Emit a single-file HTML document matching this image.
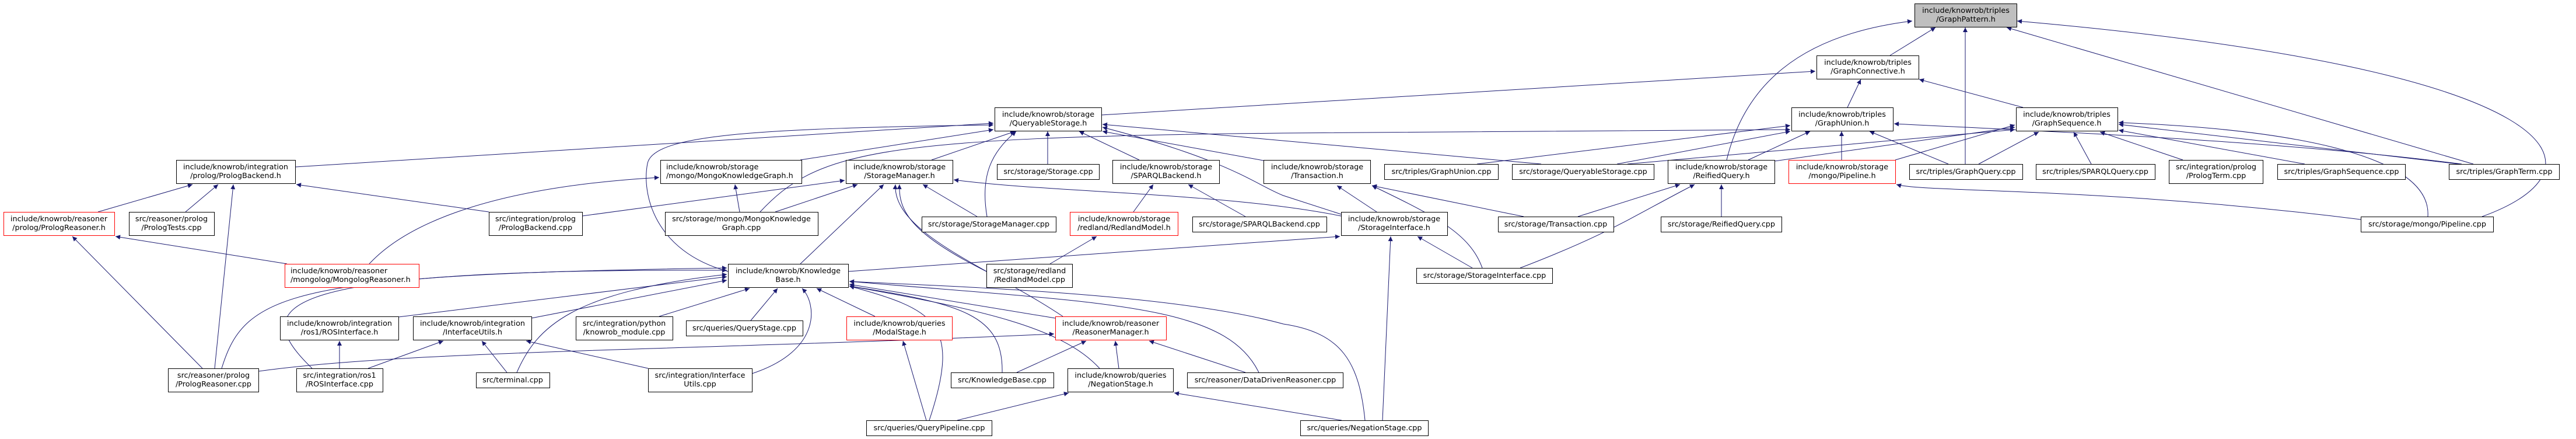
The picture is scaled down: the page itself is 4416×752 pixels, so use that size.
<!DOCTYPE html>
<html><head><meta charset="utf-8"><style>
html,body{margin:0;padding:0;background:#fff;}
svg{display:block;}
text{font-family:"DejaVu Sans","Liberation Sans",sans-serif;font-size:12.8px;fill:#000;}
.n{fill:#fff;stroke:#000;stroke-width:1;}
.r{fill:#fff;stroke:#ff0000;stroke-width:1;}
.g{fill:#bfbfbf;stroke:#000;stroke-width:1;}
.e{fill:none;stroke:#191970;stroke-width:1;marker-end:url(#a);}
</style></head><body>
<svg width="4416" height="752" viewBox="0 0 4416 752" xmlns="http://www.w3.org/2000/svg">
<defs><marker id="a" viewBox="0 0 10 10" refX="10" refY="5" markerWidth="10" markerHeight="8" markerUnits="userSpaceOnUse" orient="auto"><path d="M0,0 L10,5 L0,10 z" fill="#191970"/></marker></defs>
<g>
<path class="e" d="M3240,95 L3318,47"/>
<path class="e" d="M2960,274 C2990,150 3080,60 3278,36"/>
<path class="e" d="M3369,281 L3369,47"/>
<path class="e" d="M4240,281 L3440,47"/>
<path class="e" d="M4255,371 C4480,290 4420,120 3458,36"/>
<path class="e" d="M1888,197 L3112,122"/>
<path class="e" d="M3167,184 L3190,136"/>
<path class="e" d="M3468,184 L3290,136"/>
<path class="e" d="M2532,281 L3069,215"/>
<path class="e" d="M2772,281 L3069,225"/>
<path class="e" d="M2997,274 L3103,225"/>
<path class="e" d="M3157,274 L3157,225"/>
<path class="e" d="M3340,281 L3205,225"/>
<path class="e" d="M4220,281 C3900,240 3500,225 3247,212"/>
<path class="e" d="M2790,281 L3454,222"/>
<path class="e" d="M3042,276 L3454,218"/>
<path class="e" d="M3249,274 L3454,214"/>
<path class="e" d="M1303,363 C1400,260 1500,235 2200,228 L3069,222"/>
<path class="e" d="M506,286 L1703,211"/>
<path class="e" d="M1248,465 C1120,430 1100,330 1110,280 C1120,230 1300,220 1703,214"/>
<path class="e" d="M1372,274 L1703,222"/>
<path class="e" d="M1597,274 L1740,225"/>
<path class="e" d="M1692,371 C1680,300 1700,260 1742,225"/>
<path class="e" d="M1796,281 L1796,225"/>
<path class="e" d="M1953,274 L1850,225"/>
<path class="e" d="M2166,275 L1890,225"/>
<path class="e" d="M2642,281 L1890,213"/>
<path class="e" d="M2299,367 L2200,335 C2150,315 2110,275 1890,218"/>
<path class="e" d="M168,363 L330,316"/>
<path class="e" d="M318,363 L374,316"/>
<path class="e" d="M368,631 L400,316"/>
<path class="e" d="M838,363 L508,316"/>
<path class="e" d="M998,370 L1448,309"/>
<path class="e" d="M347,631 L124,405"/>
<path class="e" d="M492,452 L198,405"/>
<path class="e" d="M633,452 C700,380 850,320 1130,304"/>
<path class="e" d="M1268,363 L1260,316"/>
<path class="e" d="M1329,363 L1470,316"/>
<path class="e" d="M1372,452 L1515,316"/>
<path class="e" d="M1675,371 L1582,316"/>
<path class="e" d="M1822,542 C1700,460 1530,400 1535,316"/>
<path class="e" d="M1691,465 C1560,400 1540,360 1542,316"/>
<path class="e" d="M2299,370 C2100,330 1800,330 1635,308"/>
<path class="e" d="M1943,363 L1977,316"/>
<path class="e" d="M2135,371 L2037,316"/>
<path class="e" d="M1800,452 L1880,405"/>
<path class="e" d="M1454,465 L2297,405"/>
<path class="e" d="M2524,459 L2430,405"/>
<path class="e" d="M2370,720 L2384,405"/>
<path class="e" d="M2360,363 L2292,318"/>
<path class="e" d="M2612,371 L2352,318"/>
<path class="e" d="M2541,459 C2520,400 2460,370 2352,318"/>
<path class="e" d="M2705,371 L2880,316"/>
<path class="e" d="M2606,459 C2760,400 2800,370 2905,316"/>
<path class="e" d="M2951,371 L2951,316"/>
<path class="e" d="M4047,376 C3600,320 3300,330 3251,316"/>
<path class="e" d="M3392,281 L3495,226"/>
<path class="e" d="M3585,281 L3555,226"/>
<path class="e" d="M3742,274 L3600,226"/>
<path class="e" d="M3951,281 L3632,223"/>
<path class="e" d="M4215,281 L3632,213"/>
<path class="e" d="M4162,371 C4170,260 3900,220 3632,210"/>
<path class="e" d="M380,631 C420,500 500,470 1246,459"/>
<path class="e" d="M535,631 C420,520 470,460 1246,463"/>
<path class="e" d="M683,543 L1246,474"/>
<path class="e" d="M911,545 L1246,480"/>
<path class="e" d="M1130,542 L1285,494"/>
<path class="e" d="M1287,549 L1333,494"/>
<path class="e" d="M1289,640 C1410,600 1400,520 1375,494"/>
<path class="e" d="M1500,542 L1400,494"/>
<path class="e" d="M1718,638 C1720,540 1650,520 1456,490"/>
<path class="e" d="M1809,545 L1456,487"/>
<path class="e" d="M1885,631 C1820,560 1680,530 1456,490"/>
<path class="e" d="M1593,720 C1650,550 1600,530 1456,490"/>
<path class="e" d="M2158,638 C2100,520 1900,520 1456,482"/>
<path class="e" d="M2340,720 C2330,620 2300,570 2200,555 C2000,500 1600,490 1456,482"/>
<path class="e" d="M886,638 C920,560 980,500 1246,470"/>
<path class="e" d="M631,631 L760,584"/>
<path class="e" d="M869,638 L826,584"/>
<path class="e" d="M1111,631 L902,584"/>
<path class="e" d="M582,631 L582,584"/>
<path class="e" d="M443,636 C700,600 1200,600 1807,572"/>
<path class="e" d="M1743,638 L1862,584"/>
<path class="e" d="M1918,631 L1912,584"/>
<path class="e" d="M2135,638 L1970,584"/>
<path class="e" d="M1588,720 L1548,584"/>
<path class="e" d="M1641,720 L1832,673"/>
<path class="e" d="M2300,720 L2013,673"/>
</g>
<g>
<rect class="g" x="3282.5" y="6.5" width="175" height="40"/><text x="3370" y="22" text-anchor="middle">include/knowrob/triples</text><text x="3370" y="37" text-anchor="middle">/GraphPattern.h</text>
<rect class="n" x="3114.5" y="95.5" width="175" height="40"/><text x="3202" y="111" text-anchor="middle">include/knowrob/triples</text><text x="3202" y="126" text-anchor="middle">/GraphConnective.h</text>
<rect class="n" x="1705.5" y="184.5" width="183" height="40"/><text x="1797" y="200" text-anchor="middle">include/knowrob/storage</text><text x="1797" y="215" text-anchor="middle">/QueryableStorage.h</text>
<rect class="n" x="3071.5" y="184.5" width="174" height="40"/><text x="3158" y="200" text-anchor="middle">include/knowrob/triples</text><text x="3158" y="215" text-anchor="middle">/GraphUnion.h</text>
<rect class="n" x="3456.5" y="184.5" width="174" height="40"/><text x="3543" y="200" text-anchor="middle">include/knowrob/triples</text><text x="3543" y="215" text-anchor="middle">/GraphSequence.h</text>

<rect class="n" x="302.5" y="274.5" width="204" height="40"/><text x="404" y="290" text-anchor="middle">include/knowrob/integration</text><text x="404" y="305" text-anchor="middle">/prolog/PrologBackend.h</text>
<rect class="n" x="1132.5" y="274.5" width="242" height="40"/><text x="1142" y="290">include/knowrob/storage</text><text x="1142" y="305">/mongo/MongoKnowledgeGraph.h</text>
<rect class="n" x="1450.5" y="274.5" width="183" height="40"/><text x="1542" y="290" text-anchor="middle">include/knowrob/storage</text><text x="1542" y="305" text-anchor="middle">/StorageManager.h</text>
<rect class="n" x="1709.5" y="281.5" width="175" height="26"/><text x="1797" y="298" text-anchor="middle">src/storage/Storage.cpp</text>
<rect class="n" x="1907.5" y="274.5" width="183" height="40"/><text x="1999" y="290" text-anchor="middle">include/knowrob/storage</text><text x="1999" y="305" text-anchor="middle">/SPARQLBackend.h</text>
<rect class="n" x="2166.5" y="274.5" width="183" height="40"/><text x="2258" y="290" text-anchor="middle">include/knowrob/storage</text><text x="2258" y="305" text-anchor="middle">/Transaction.h</text>
<rect class="n" x="2373.5" y="281.5" width="195" height="26"/><text x="2471" y="298" text-anchor="middle">src/triples/GraphUnion.cpp</text>
<rect class="n" x="2592.5" y="281.5" width="243" height="26"/><text x="2714" y="298" text-anchor="middle">src/storage/QueryableStorage.cpp</text>
<rect class="n" x="2859.5" y="274.5" width="183" height="40"/><text x="2951" y="290" text-anchor="middle">include/knowrob/storage</text><text x="2951" y="305" text-anchor="middle">/ReifiedQuery.h</text>
<rect class="r" x="3066.5" y="274.5" width="183" height="40"/><text x="3158" y="290" text-anchor="middle">include/knowrob/storage</text><text x="3158" y="305" text-anchor="middle">/mongo/Pipeline.h</text>
<rect class="n" x="3273.5" y="281.5" width="194" height="26"/><text x="3370" y="298" text-anchor="middle">src/triples/GraphQuery.cpp</text>
<rect class="n" x="3490.5" y="281.5" width="204" height="26"/><text x="3592" y="298" text-anchor="middle">src/triples/SPARQLQuery.cpp</text>
<rect class="n" x="3718.5" y="274.5" width="161" height="40"/><text x="3799" y="290" text-anchor="middle">src/integration/prolog</text><text x="3799" y="305" text-anchor="middle">/PrologTerm.cpp</text>
<rect class="n" x="3904.5" y="281.5" width="219" height="26"/><text x="4014" y="298" text-anchor="middle">src/triples/GraphSequence.cpp</text>
<rect class="n" x="4198.5" y="281.5" width="189" height="26"/><text x="4293" y="298" text-anchor="middle">src/triples/GraphTerm.cpp</text>

<rect class="r" x="6.5" y="363.5" width="190" height="40"/><text x="101" y="379" text-anchor="middle">include/knowrob/reasoner</text><text x="101" y="394" text-anchor="middle">/prolog/PrologReasoner.h</text>
<rect class="n" x="221.5" y="363.5" width="146" height="40"/><text x="294" y="379" text-anchor="middle">src/reasoner/prolog</text><text x="294" y="394" text-anchor="middle">/PrologTests.cpp</text>
<rect class="n" x="838.5" y="363.5" width="160" height="40"/><text x="918" y="379" text-anchor="middle">src/integration/prolog</text><text x="918" y="394" text-anchor="middle">/PrologBackend.cpp</text>
<rect class="n" x="1140.5" y="363.5" width="262" height="40"/><text x="1271" y="379" text-anchor="middle">src/storage/mongo/MongoKnowledge</text><text x="1271" y="394" text-anchor="middle">Graph.cpp</text>
<rect class="n" x="1580.5" y="371.5" width="230" height="26"/><text x="1695" y="388" text-anchor="middle">src/storage/StorageManager.cpp</text>
<rect class="r" x="1834.5" y="363.5" width="185" height="40"/><text x="1927" y="379" text-anchor="middle">include/knowrob/storage</text><text x="1927" y="394" text-anchor="middle">/redland/RedlandModel.h</text>
<rect class="n" x="2044.5" y="371.5" width="230" height="26"/><text x="2159" y="388" text-anchor="middle">src/storage/SPARQLBackend.cpp</text>
<rect class="n" x="2299.5" y="363.5" width="182" height="40"/><text x="2390" y="379" text-anchor="middle">include/knowrob/storage</text><text x="2390" y="394" text-anchor="middle">/StorageInterface.h</text>
<rect class="n" x="2568.5" y="371.5" width="198" height="26"/><text x="2667" y="388" text-anchor="middle">src/storage/Transaction.cpp</text>
<rect class="n" x="2847.5" y="371.5" width="207" height="26"/><text x="2951" y="388" text-anchor="middle">src/storage/ReifiedQuery.cpp</text>
<rect class="n" x="4047.5" y="371.5" width="227" height="26"/><text x="4161" y="388" text-anchor="middle">src/storage/mongo/Pipeline.cpp</text>

<rect class="r" x="488.5" y="452.5" width="230" height="40"/><text x="498" y="468">include/knowrob/reasoner</text><text x="498" y="483">/mongolog/MongologReasoner.h</text>
<rect class="n" x="1248.5" y="452.5" width="206" height="40"/><text x="1351" y="468" text-anchor="middle">include/knowrob/Knowledge</text><text x="1351" y="483" text-anchor="middle">Base.h</text>
<rect class="n" x="1691.5" y="452.5" width="147" height="40"/><text x="1765" y="468" text-anchor="middle">src/storage/redland</text><text x="1765" y="483" text-anchor="middle">/RedlandModel.cpp</text>
<rect class="n" x="2428.5" y="459.5" width="233" height="26"/><text x="2545" y="476" text-anchor="middle">src/storage/StorageInterface.cpp</text>

<rect class="n" x="480.5" y="542.5" width="203" height="40"/><text x="582" y="558" text-anchor="middle">include/knowrob/integration</text><text x="582" y="573" text-anchor="middle">/ros1/ROSInterface.h</text>
<rect class="n" x="708.5" y="542.5" width="203" height="40"/><text x="810" y="558" text-anchor="middle">include/knowrob/integration</text><text x="810" y="573" text-anchor="middle">/InterfaceUtils.h</text>
<rect class="n" x="987.5" y="542.5" width="166" height="40"/><text x="1070" y="558" text-anchor="middle">src/integration/python</text><text x="1070" y="573" text-anchor="middle">/knowrob_module.cpp</text>
<rect class="n" x="1176.5" y="549.5" width="200" height="26"/><text x="1276" y="566" text-anchor="middle">src/queries/QueryStage.cpp</text>
<rect class="r" x="1451.5" y="542.5" width="181" height="40"/><text x="1542" y="558" text-anchor="middle">include/knowrob/queries</text><text x="1542" y="573" text-anchor="middle">/ModalStage.h</text>
<rect class="r" x="1809.5" y="542.5" width="190" height="40"/><text x="1904" y="558" text-anchor="middle">include/knowrob/reasoner</text><text x="1904" y="573" text-anchor="middle">/ReasonerManager.h</text>

<rect class="n" x="288.5" y="631.5" width="155" height="40"/><text x="366" y="647" text-anchor="middle">src/reasoner/prolog</text><text x="366" y="662" text-anchor="middle">/PrologReasoner.cpp</text>
<rect class="n" x="508.5" y="631.5" width="148" height="40"/><text x="582" y="647" text-anchor="middle">src/integration/ros1</text><text x="582" y="662" text-anchor="middle">/ROSInterface.cpp</text>
<rect class="n" x="816.5" y="638.5" width="126" height="26"/><text x="879" y="655" text-anchor="middle">src/terminal.cpp</text>
<rect class="n" x="1111.5" y="631.5" width="178" height="40"/><text x="1200" y="647" text-anchor="middle">src/integration/Interface</text><text x="1200" y="662" text-anchor="middle">Utils.cpp</text>
<rect class="n" x="1630.5" y="638.5" width="176" height="26"/><text x="1718" y="655" text-anchor="middle">src/KnowledgeBase.cpp</text>
<rect class="n" x="1830.5" y="631.5" width="181" height="40"/><text x="1921" y="647" text-anchor="middle">include/knowrob/queries</text><text x="1921" y="662" text-anchor="middle">/NegationStage.h</text>
<rect class="n" x="2035.5" y="638.5" width="267" height="26"/><text x="2169" y="655" text-anchor="middle">src/reasoner/DataDrivenReasoner.cpp</text>

<rect class="n" x="1485.5" y="720.5" width="215" height="26"/><text x="1593" y="737" text-anchor="middle">src/queries/QueryPipeline.cpp</text>
<rect class="n" x="2229.5" y="720.5" width="219" height="26"/><text x="2339" y="737" text-anchor="middle">src/queries/NegationStage.cpp</text>
</g>
</svg>
</body></html>
